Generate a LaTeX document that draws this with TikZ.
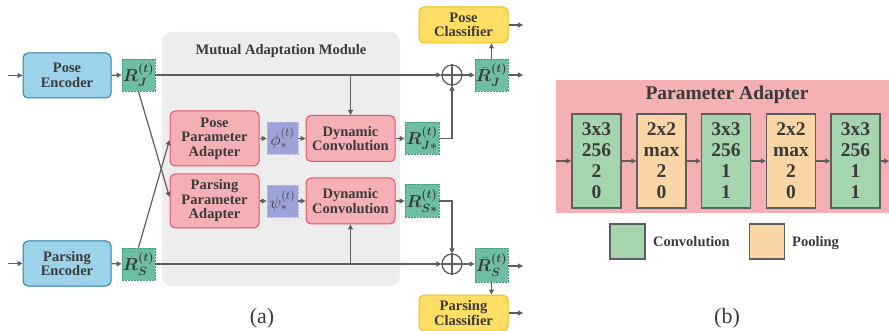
\documentclass[tikz,border=0pt]{standalone}
\usepackage{fontspec}
\setmainfont{Liberation Serif}
\usepackage{amsmath}
\usepackage{bm}
\usetikzlibrary{arrows.meta}

\definecolor{encfill}{HTML}{9DD3EA}
\definecolor{encline}{HTML}{2A7DA6}
\definecolor{featfill}{HTML}{6EBEA5}
\definecolor{featline}{HTML}{3F9A7E}
\definecolor{adfill}{HTML}{F4B0B4}
\definecolor{adline}{HTML}{E5556A}
\definecolor{kfill}{HTML}{9DA2D8}
\definecolor{kline}{HTML}{BDB8E4}
\definecolor{clsfill}{HTML}{FFDE66}
\definecolor{clsline}{HTML}{F3BD0C}
\definecolor{modfill}{HTML}{EDEDED}
\definecolor{arrgray}{HTML}{5E5E5E}
\definecolor{txtgray}{HTML}{3A3A3A}
\definecolor{bgpink}{HTML}{F4B0B2}
\definecolor{convfill}{HTML}{A5D5AF}
\definecolor{poolfill}{HTML}{FAD5A5}

\newcommand{\boxfont}{\fontsize{14.5}{14.5}\selectfont\bfseries}
\newcommand{\bigfont}{\fontsize{19.5}{21}\selectfont\bfseries}
\newcommand{\symfont}{\fontsize{18}{18}\selectfont}

\begin{document}
\begin{tikzpicture}
[x=1pt,y=-1pt,%
  every node/.style={align=center,text=txtgray,inner sep=0pt},%
  arr/.style={draw=arrgray,line width=1.2pt,-{Triangle[length=5pt,width=5pt]}},%
  lin/.style={draw=arrgray,line width=1.2pt},%
  enc/.style={rectangle,rounded corners=5pt,draw=encline,fill=encfill,line width=1pt,minimum width=88pt,minimum height=45pt,font=\boxfont},%
  feat/.style={rectangle,draw=featline,fill=featfill,dash pattern=on 2pt off 1pt,line width=0.8pt,minimum width=33pt,minimum height=32pt,font=\symfont},%
  adapt/.style={rectangle,rounded corners=5pt,draw=adline,fill=adfill,line width=1pt,minimum width=89pt,minimum height=46pt,font=\boxfont},%
  kern/.style={rectangle,draw=kline,fill=kfill,dash pattern=on 2pt off 1pt,line width=0.8pt,minimum width=31pt,minimum height=32pt,font=\symfont},%
  cls/.style={rectangle,rounded corners=5pt,draw=clsline,fill=clsfill,line width=1pt,minimum width=89pt,minimum height=36pt,font=\boxfont},%
  plus/.style={circle,draw=arrgray,line width=1.2pt,minimum size=20pt},%
  conv/.style={rectangle,draw=arrgray,fill=convfill,line width=1.5pt,minimum width=49pt,minimum height=94pt,font=\bigfont},%
  pool/.style={rectangle,draw=arrgray,fill=poolfill,line width=1.5pt,minimum width=49pt,minimum height=94pt,font=\bigfont}]
\useasboundingbox (0,0) rectangle (889,331);

% (a) mutual adaptation
\fill[modfill,rounded corners=10pt] (162,32) rectangle (400,286);
\node[font=\boxfont] (mtitle) at (281,51) {Mutual Adaptation Module};

\node[enc] (penc) at (67,75.5) {Pose\\Encoder};
\node[enc] (senc) at (67,263.5) {Parsing\\Encoder};
\node[feat] (rj) at (138.5,75) {$\boldsymbol{R^{(t)}_{J}}$};
\node[feat] (rs) at (138.5,264) {$\boldsymbol{R^{(t)}_{S}}$};

\node[adapt,minimum height=55pt] (ppa) at (214.5,138.5) {Pose\\Parameter\\Adapter};
\node[adapt,minimum height=54pt] (spa) at (214.5,201) {Parsing\\Parameter\\Adapter};
\node[kern] (phi) at (282.5,138.5) {$\phi^{(t)}_{*}$};
\node[kern] (psi) at (282.5,201) {$\psi^{(t)}_{*}$};
\node[adapt] (dc1) at (350.5,138.5) {Dynamic\\Convolution};
\node[adapt] (dc2) at (350.5,201) {Dynamic\\Convolution};
\node[feat,minimum width=34pt] (rjs) at (422,138.5) {$\boldsymbol{R^{(t)}_{J*}}$};
\node[feat,minimum width=34pt,minimum height=33pt] (rss) at (422,201) {$\boldsymbol{R^{(t)}_{S*}}$};

\node[plus] (o1) at (452,75) {};
\node[plus] (o2) at (452,264) {};
\draw[lin] (o1.north) -- (o1.south) (o1.west) -- (o1.east);
\draw[lin] (o2.north) -- (o2.south) (o2.west) -- (o2.east);

\node[feat] (rbj) at (491.5,75) {$\bar{\bm{R}}^{\bm{(t)}}_{\bm{J}}$};
\node[feat,minimum height=34pt] (rbs) at (491.5,265) {$\bar{\bm{R}}^{\bm{(t)}}_{\bm{S}}$};
\node[cls] (pcls) at (463.5,25) {Pose\\Classifier};
\node[cls] (scls) at (463.5,313) {Parsing\\Classifier};

\coordinate (pin) at (8,75.5);
\coordinate (sin) at (8,263.5);
\coordinate (jout) at (523,75);
\coordinate (sout) at (523,266);
\coordinate (pout) at (523,25);
\coordinate (qout) at (523,313);

\draw[arr] (pin) -- (penc);
\draw[arr] (sin) -- (senc);
\draw[arr] (penc) -- (rj);
\draw[arr] (senc) -- (rs);
\draw[arr] (rj.south) -- ([yshift=4pt]spa.west);
\draw[arr] (rs.north) -- ([yshift=-1.5pt]ppa.west);
\draw[arr] (ppa) -- (phi);
\draw[arr] (spa) -- (psi);
\draw[arr] (phi) -- (dc1);
\draw[arr] (psi) -- (dc2);
\draw[arr] (dc1) -- (rjs);
\draw[arr] (dc2) -- (rss);
\draw[arr] (rj) -- (o1);
\draw[arr] (rs) -- (o2);
\draw[arr] (dc1.north |- o1) -- (dc1.north);
\draw[arr] (dc2.south |- o2) -- (dc2.south);
\draw[arr] (rjs.east) -| (o1.south);
\draw[arr] (rss.east) -| (o2.north);
\draw[arr] (o1) -- (rbj);
\draw[arr] (o2) -- (o2 -| rbs.west);
\draw[arr] (rbj.north) -- (rbj.north |- pcls.south);
\draw[arr] (rbs.south) -- (rbs.south |- scls.north);
\draw[arr] (rbj) -- (jout);
\draw[arr] (rbs.east |- sout) -- (sout);
\draw[arr] (pcls) -- (pout);
\draw[arr] (scls) -- (qout);

\node[font=\fontsize{22}{22}\selectfont] (capa) at (262,318) {(a)};

% (b) parameter adapter
\node[fill=bgpink,minimum width=333pt,minimum height=133pt] (pa) at (722.5,146.5) {};
\node[font=\bigfont] (ptitle) at (727,95) {Parameter Adapter};
\foreach \n/\x/\s/\t in {1/596.5/conv/{3x3\\256\\2\\0},2/661.5/pool/{2x2\\max\\2\\0},3/726/conv/{3x3\\256\\1\\1},4/791/pool/{2x2\\max\\2\\0},5/855.5/conv/{3x3\\256\\1\\1}}
  \node[\s] (b\n) at (\x,161) {\t};
\coordinate (bin) at (556,161);
\coordinate (bout) at (889,161);
\draw[arr] (bin) -- (b1);
\foreach \a/\b in {1/2,2/3,3/4,4/5}
  \draw[arr] (b\a) -- (b\b);
\draw[arr] (b5) -- (bout);

\node[conv,minimum width=35pt,minimum height=35pt] (lconv) at (627.5,241.5) {};
\node[pool,minimum width=35pt,minimum height=35pt] (lpool) at (767,241.5) {};
\node[font=\boxfont,anchor=base west] (tconv) at (653,246.5) {Convolution};
\node[font=\boxfont,anchor=base west] (tpool) at (792,246.5) {Pooling};

\node[font=\fontsize{22}{22}\selectfont] (capb) at (727,318) {(b)};
\end{tikzpicture}
\end{document}
